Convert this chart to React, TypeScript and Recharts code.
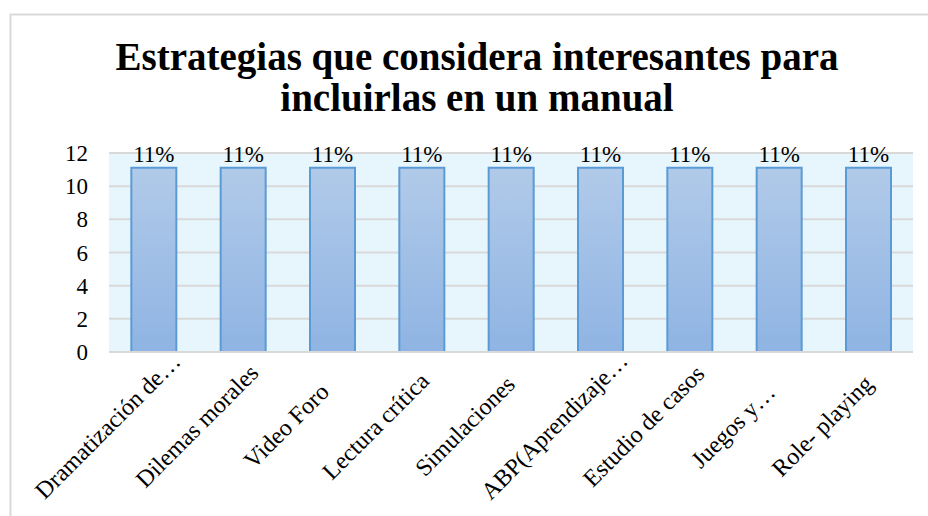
import { BarChart, Bar, XAxis, YAxis, CartesianGrid, LabelList } from "recharts";

const categories = [
  "Dramatización de…",
  "Dilemas morales",
  "Video Foro",
  "Lectura crítica",
  "Simulaciones",
  "ABP(Aprendizaje…",
  "Estudio de casos",
  "Juegos y…",
  "Role- playing",
];
const values = [11.11, 11.11, 11.11, 11.11, 11.11, 11.11, 11.11, 11.11, 11.11];
const yTicks = [0, 2, 4, 6, 8, 10, 12];
const titleLines = ["Estrategias que considera interesantes para", "incluirlas en un manual"];

const data = categories.map((name, i) => ({ name, value: values[i] }));

const FONT = "Liberation Serif";

const CategoryTick = (props: any) => {
  const { x, payload } = props;
  const cx = x - 46;
  const cy = 426;
  return (
    <text
      x={cx}
      y={cy}
      textAnchor="middle"
      dominantBaseline="central"
      transform={`rotate(-45, ${cx}, ${cy})`}
      fontFamily={FONT}
      fontSize={24}
      fill="#000"
    >
      {payload.value}
    </text>
  );
};

const ValueTick = (props: any) => {
  const { x, y, payload } = props;
  return (
    <text x={x} y={y} dy={8} textAnchor="end" fontFamily={FONT} fontSize={23} fill="#000">
      {payload.value}
    </text>
  );
};

const PctLabel = (props: any) => {
  const { x, y, width, value } = props;
  return (
    <text x={x + width / 2} y={y - 6} textAnchor="middle" fontFamily={FONT} fontSize={23} fill="#000">
      {`${Math.round(Number(value))}%`}
    </text>
  );
};

export default function App() {
  return (
    <div style={{ position: "absolute", left: 0, top: 0, width: 928, height: 516, background: "#fff", fontFamily: FONT }}>
      <svg width={928} height={516} style={{ position: "absolute", left: 0, top: 0 }}>
        <line x1={10.5} y1={14} x2={10.5} y2={516} stroke="#D9D9D9" strokeWidth={2} />
        <line x1={10} y1={14.5} x2={928} y2={14.5} stroke="#D9D9D9" strokeWidth={2} />
        {titleLines.map((t, i) => (
          <text
            key={i}
            x={477}
            y={70 + i * 41}
            textAnchor="middle"
            fontFamily={FONT}
            fontWeight="bold"
            fontSize={39}
            fill="#000"
          >
            {t}
          </text>
        ))}
      </svg>
      <div style={{ position: "absolute", left: 0, top: 0 }}>
        <BarChart
          width={928}
          height={516}
          data={data}
          margin={{ top: 153, right: 15, bottom: 14, left: 49 }}
          barCategoryGap="25%"
          style={{ fontFamily: FONT }}
        >
          <defs>
            <linearGradient id="barFill" x1="0" y1="0" x2="0" y2="1">
              <stop offset="0%" stopColor="#B1CAE9" />
              <stop offset="100%" stopColor="#8FB4E3" />
            </linearGradient>
          </defs>
          <CartesianGrid vertical={false} stroke="#D9D9D9" strokeWidth={2} fill="#E7F6FD" fillOpacity={1} />
          <XAxis
            dataKey="name"
            height={150}
            interval={0}
            tickLine={false}
            axisLine={{ stroke: "#D9D9D9", strokeWidth: 2 }}
            tick={<CategoryTick />}
          />
          <YAxis
            width={60}
            domain={[0, 12]}
            ticks={yTicks}
            axisLine={false}
            tickLine={false}
            tickSize={0}
            tickMargin={21}
            tick={<ValueTick />}
          />
          <Bar dataKey="value" fill="url(#barFill)" stroke="#5B9BD5" strokeWidth={2} isAnimationActive={false}>
            <LabelList dataKey="value" content={<PctLabel />} />
          </Bar>
        </BarChart>
      </div>
    </div>
  );
}
